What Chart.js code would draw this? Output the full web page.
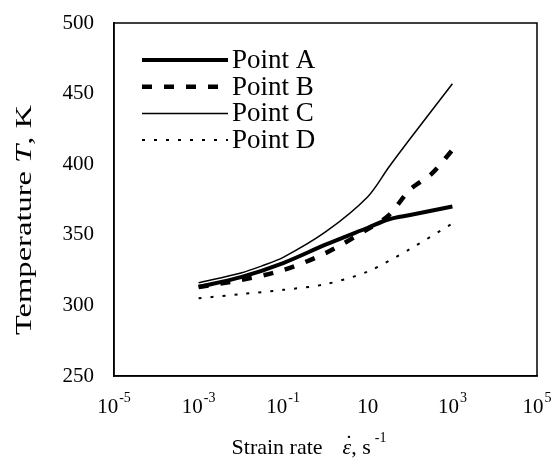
<!DOCTYPE html>
<html><head><meta charset="utf-8">
<script src="https://cdn.jsdelivr.net/npm/chart.js@4/dist/chart.umd.min.js"></script>
<style>html,body{margin:0;padding:0;background:#fff}#wrap{width:554px;height:464px}</style>
</head><body><div id="wrap"><canvas id="c" width="554" height="464"></canvas></div>
<script>
// ---- data ----
const seriesLabels = ['Point A', 'Point B', 'Point C', 'Point D'];
const rateA = [0.001, 0.01, 0.1, 1, 10, 31.6, 100, 1000];
const tempA = [313, 320, 330, 343, 355, 361, 364, 370];
const rateB = [0.001, 0.01, 0.1, 1, 10, 31.6, 100, 316, 1000];
const tempB = [313, 318, 325, 337, 354, 364, 382, 393, 410];
const rateC = [0.001, 0.01, 0.0316, 0.1, 1, 10, 31.6, 100, 1000];
const tempC = [316, 323, 328, 334, 352, 377, 398, 418, 457];
const rateD = [0.001, 0.01, 0.1, 1, 10, 100, 1000];
const tempD = [305, 308, 311, 315, 324, 340, 358];
const xTickValues = [1e-5, 1e-3, 1e-1, 10, 1e3, 1e5];
const xTickBase = ['10', '10', '10', '10', '10', '10'];
const xTickExp = ['-5', '-3', '-1', '', '3', '5'];
const yMin = 250, yMax = 500, yStep = 50;
const xTitleText = ['Strain rate', '\u03B5', ', s', '-1'];
const yTitleParts = [['Temperature ', 'n'], ['T', 'i'], [', K', 'n']];

const FONT = '"Liberation Serif", "Times New Roman", serif';
const pts = (xs, ys) => xs.map((x, i) => ({ x: x, y: ys[i] }));

const styles = [
  { borderWidth: 4, borderDash: [] },
  { borderWidth: 4.5, borderDash: [10, 12] },
  { borderWidth: 1.5, borderDash: [] },
  { borderWidth: 2, borderDash: [3, 9] }
];
const dataPairs = [[rateA, tempA], [rateB, tempB], [rateC, tempC], [rateD, tempD]];

const datasets = dataPairs.map((p, i) => Object.assign({
  label: seriesLabels[i],
  data: pts(p[0], p[1]),
  borderColor: '#000',
  backgroundColor: '#000',
  pointRadius: 0,
  tension: 0.3,
  fill: false
}, styles[i]));

const framePlugin = {
  id: 'frame',
  afterDatasetsDraw(chart) {
    const a = chart.chartArea, ctx = chart.ctx;
    ctx.save();
    ctx.strokeStyle = '#000'; ctx.lineWidth = 1.5;
    ctx.strokeRect(a.left, a.top, a.right - a.left, a.bottom - a.top);
    ctx.restore();
  }
};

// x tick labels with real superscripts, positioned through the x scale
const xLabelPlugin = {
  id: 'xLabels',
  afterDraw(chart) {
    const ctx = chart.ctx, xs = chart.scales.x, a = chart.chartArea;
    ctx.save();
    ctx.fillStyle = '#000';
    ctx.textBaseline = 'alphabetic';
    ctx.textAlign = 'left';
    const baseFont = '21px ' + FONT, expFont = '14px ' + FONT;
    const baseY = a.bottom + 37;
    xTickValues.forEach((v, i) => {
      const px = xs.getPixelForValue(v);
      ctx.font = baseFont;
      const wb = ctx.measureText(xTickBase[i]).width;
      ctx.font = expFont;
      const we = xTickExp[i] ? ctx.measureText(xTickExp[i]).width + 1 : 0;
      const x0 = px - (wb + we) / 2;
      ctx.font = baseFont;
      ctx.fillText(xTickBase[i], x0, baseY);
      if (xTickExp[i]) {
        ctx.font = expFont;
        ctx.fillText(xTickExp[i], x0 + wb + 1, baseY - 11);
      }
    });
    ctx.restore();
  }
};

const titlesPlugin = {
  id: 'titles',
  afterDraw(chart) {
    const ctx = chart.ctx, a = chart.chartArea;
    ctx.save();
    ctx.fillStyle = '#000';
    ctx.textBaseline = 'alphabetic';
    ctx.textAlign = 'left';
    // y title (elongated along its reading direction, as in the reference)
    ctx.save();
    ctx.translate(31, 220);
    ctx.rotate(-Math.PI / 2);
    const size = 23;
    const fonts = yTitleParts.map(p => (p[1] === 'i' ? 'italic ' : '') + size + 'px ' + FONT);
    const ws = yTitleParts.map((p, i) => { ctx.font = fonts[i]; return ctx.measureText(p[0]).width; });
    const natural = ws.reduce((s, w) => s + w, 0);
    ctx.scale(230 / natural, 1);
    let x = -natural / 2;
    yTitleParts.forEach((p, i) => { ctx.font = fonts[i]; ctx.fillText(p[0], x, 0); x += ws[i]; });
    ctx.restore();
    // x title
    const nf = '22px ' + FONT, itf = 'italic 22px ' + FONT, sf = '14px ' + FONT;
    ctx.font = nf; const w0 = ctx.measureText(xTitleText[0]).width; const gap = 20;
    ctx.font = itf; const w1 = ctx.measureText(xTitleText[1]).width;
    ctx.font = nf; const w2 = ctx.measureText(xTitleText[2]).width;
    ctx.font = sf; const w3 = ctx.measureText(xTitleText[3]).width;
    const total = w0 + gap + w1 + w2 + 4 + w3;
    let xx = 309 - total / 2;
    const by = 454;
    ctx.font = nf; ctx.fillText(xTitleText[0], xx, by); xx += w0 + gap;
    ctx.font = itf; ctx.fillText(xTitleText[1], xx, by);
    ctx.font = nf; ctx.textAlign = 'center'; ctx.fillText('\u02D9', xx + w1 / 2 + 2, by - 4); ctx.textAlign = 'left';
    xx += w1;
    ctx.font = nf; ctx.fillText(xTitleText[2], xx, by); xx += w2 + 4;
    ctx.font = sf; ctx.fillText(xTitleText[3], xx, by - 12);
    ctx.restore();
  }
};

const legendPlugin = {
  id: 'inLegend',
  afterDatasetsDraw(chart) {
    const ctx = chart.ctx, a = chart.chartArea;
    chart.data.datasets.forEach((ds, i) => {
      const y = a.top + 37 + i * 26.7;
      ctx.save();
      ctx.strokeStyle = ds.borderColor;
      ctx.lineWidth = ds.borderWidth;
      ctx.setLineDash(ds.borderDash || []);
      ctx.beginPath();
      ctx.moveTo(a.left + 28, y);
      ctx.lineTo(a.left + 114, y);
      ctx.stroke();
      ctx.setLineDash([]);
      ctx.fillStyle = '#000';
      ctx.font = '27px ' + FONT;
      ctx.textBaseline = 'middle';
      ctx.fillText(ds.label, a.left + 118, y + 1);
      ctx.restore();
    });
  }
};

new Chart(document.getElementById('c'), {
  type: 'line',
  data: { datasets: datasets },
  plugins: [framePlugin, legendPlugin, xLabelPlugin, titlesPlugin],
  options: {
    responsive: false,
    animation: false,
    devicePixelRatio: 1,
    layout: { padding: { left: 0, right: 17, top: 23, bottom: 0 } },
    plugins: { legend: { display: false }, tooltip: { enabled: false } },
    scales: {
      x: {
        type: 'logarithmic',
        min: 1e-5, max: 1e5,
        afterBuildTicks: s => { s.ticks = xTickValues.map(v => ({ value: v })); },
        afterFit: s => { s.height = 88; },
        grid: { display: false, drawTicks: false },
        border: { display: true, color: '#000', width: 1.5 },
        ticks: { display: false }
      },
      y: {
        type: 'linear',
        min: yMin, max: yMax,
        afterFit: s => { s.width = 114; s.paddingTop = 0; s.paddingBottom = 0; },
        grid: { display: false, drawTicks: false },
        border: { display: true, color: '#000', width: 1.5 },
        ticks: { stepSize: yStep, padding: 20, color: '#000', font: { family: FONT, size: 21 } }
      }
    }
  }
});
</script>
</body></html>
